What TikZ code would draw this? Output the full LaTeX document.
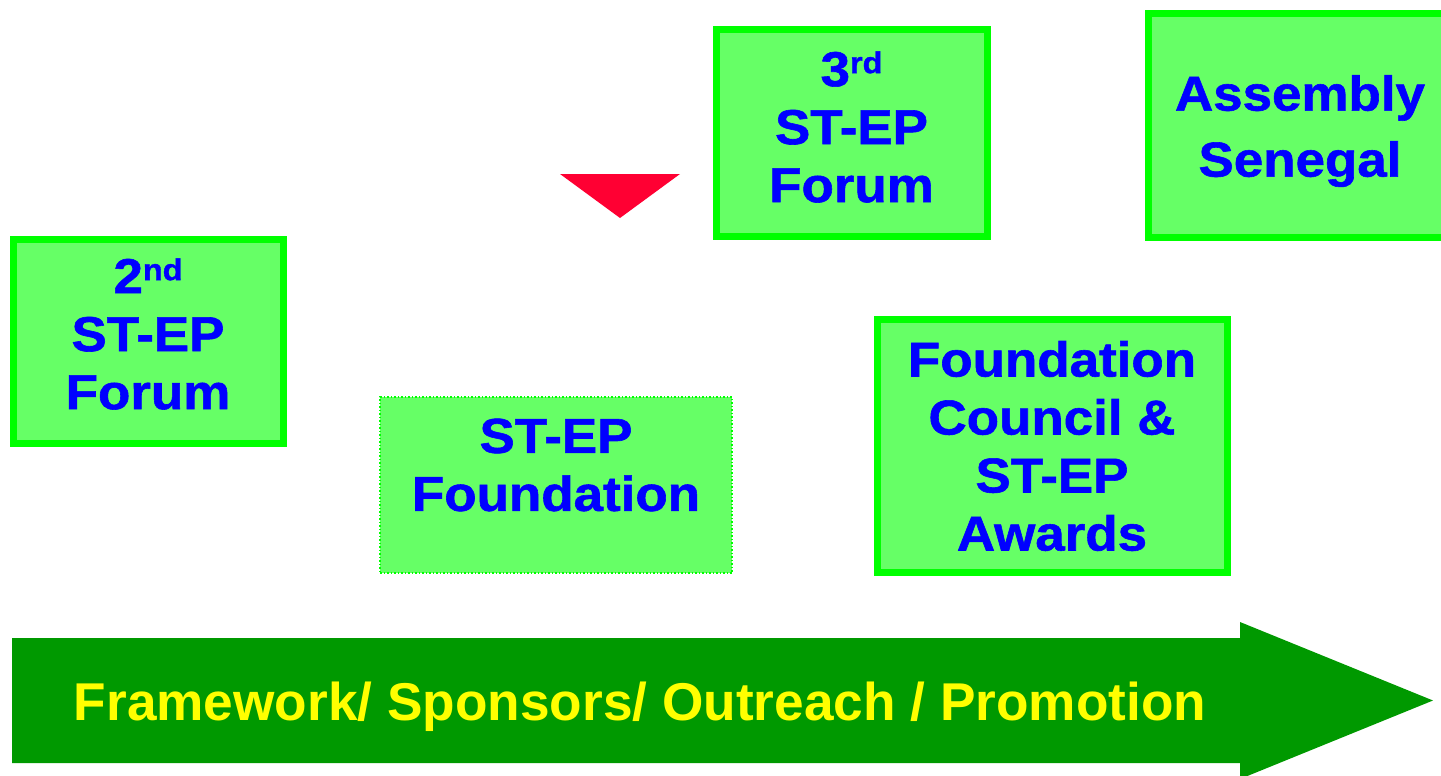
\documentclass[tikz,border=0pt]{standalone}
\usepackage{fontspec}
\setmainfont{Liberation Sans}
\newfontfamily\boxfont{Liberation Sans}[FakeStretch=1.08,FakeBold=1.2]
\definecolor{boxfill}{HTML}{66FF66}
\definecolor{boxline}{HTML}{00FF00}
\definecolor{txtblue}{HTML}{0000FF}
\definecolor{arrowgreen}{HTML}{009900}
\definecolor{tri}{HTML}{FF0033}
\definecolor{ytext}{HTML}{FFFF00}
\newcommand{\sups}[1]{\raisebox{13pt}{\fontsize{30}{30}\selectfont #1}}
\tikzset{
  stbox/.style={draw=boxline, fill=boxfill, line width=7pt, rectangle, inner sep=0pt, outer sep=0pt},
  dotbox/.style={draw=boxline, fill=boxfill, line width=1.5pt, dotted, rectangle, inner sep=0pt, outer sep=0pt},
  stext/.style={text=txtblue, align=center, inner sep=0pt, font=\boxfont\bfseries\fontsize{49}{58}\selectfont},
}
\begin{document}
\begin{tikzpicture}[x=1pt, y=-1pt]
\useasboundingbox (0,0) rectangle (1441,776);
\clip (0,0) rectangle (1441,776);
% boxes
\node[stbox, minimum width=270pt, minimum height=204pt] (b2) at (148,341) {};
\node[stbox, minimum width=271pt, minimum height=206pt] (b3) at (851.5,133) {};
\node[stbox, minimum width=312pt, minimum height=223pt] (bas) at (1304,125.5) {};
\node[stbox, minimum width=350pt, minimum height=253pt] (bfc) at (1052,445.5) {};
\node[dotbox, minimum width=352pt, minimum height=176pt] (bfd) at (556,485) {};
% texts
\node[stext] (t2) at (148,334) {2\sups{nd}\\ST-EP\\Forum};
\node[stext] (t3) at (851.5,127) {3\sups{rd}\\ST-EP\\Forum};
\node[stext, font=\boxfont\bfseries\fontsize{49}{66}\selectfont] (tas) at (1300,131) {Assembly\\Senegal};
\node[stext] (tfc) at (1052,446) {Foundation\\Council \&\\ST-EP\\Awards};
\node[stext] (tfd) at (556,465) {ST-EP\\Foundation};
% red triangle
\fill[tri] (560,174) -- (680,174) -- (620,218) -- cycle;
% big arrow
\fill[arrowgreen] (12,638) -- (1240,638) -- (1240,622) -- (1433,700.5) -- (1240,779) -- (1240,763) -- (12,763) -- cycle;
\node[text=ytext, inner sep=0pt, font=\bfseries\fontsize{53.2}{60}\selectfont] (tarrow) at (640,707) {Framework/ Sponsors/ Outreach / Promotion};
\end{tikzpicture}
\end{document}
